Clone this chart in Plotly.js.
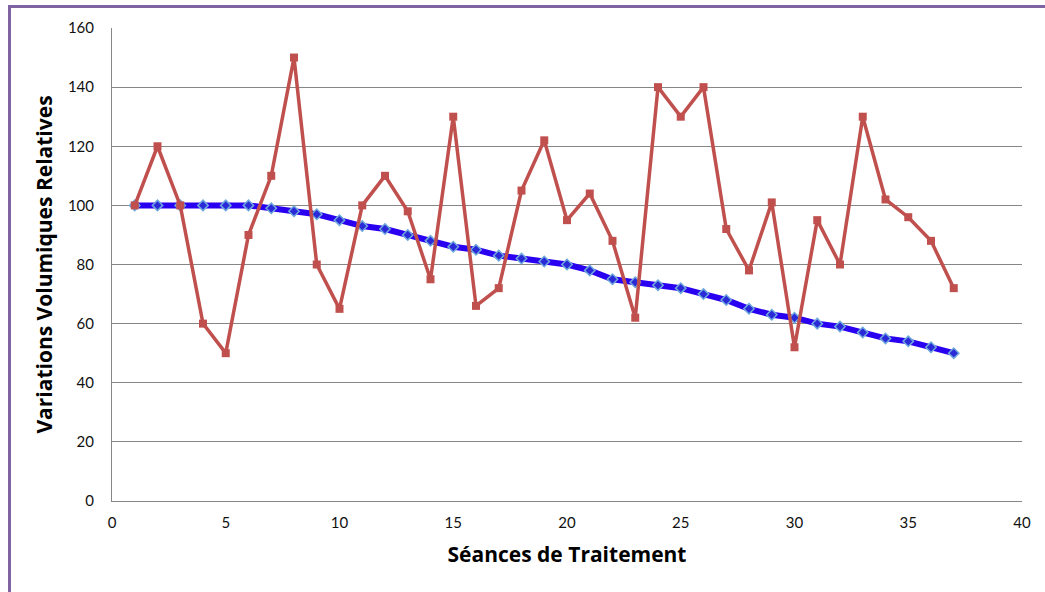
<!DOCTYPE html>
<html>
<head>
<meta charset="utf-8">
<script src="https://cdn.plot.ly/plotly-3.0.1.min.js"></script>
<style>
  html, body { margin: 0; padding: 0; background: #fff; }
  #wrap { position: relative; width: 1045px; height: 592px; overflow: hidden; }
  #frame { position: absolute; left: 8px; top: 5px; width: 1100px; height: 700px;
           border-left: 3px solid #8064A2; border-top: 3px solid #8064A2; pointer-events: none; }
  #chart { position: absolute; left: 0; top: 0; width: 1045px; height: 592px; }
</style>
</head>
<body>
<div id="wrap">
  <div id="chart"></div>
  <div id="frame"></div>
</div>
<script>
const seances = [1,2,3,4,5,6,7,8,9,10,11,12,13,14,15,16,17,18,19,20,21,22,23,24,25,26,27,28,29,30,31,32,33,34,35,36,37];
const serieBleue = [100,100,100,100,100,100,99,98,97,95,93,92,90,88,86,85,83,82,81,80,78,75,74,73,72,70,68,65,63,62,60,59,57,55,54,52,50];
const serieRouge = [100,120,100,60,50,90,110,150,80,65,100,110,98,75,130,66,72,105,122,95,104,88,62,140,130,140,92,78,101,52,95,80,130,102,96,88,72];
const xTicks = [0,5,10,15,20,25,30,35,40];
const yTicks = [0,20,40,60,80,100,120,140,160];

const traces = [
  {
    x: seances, y: serieBleue, type: 'scatter', mode: 'lines+markers',
    line: { color: '#2A00F0', width: 6 },
    marker: { symbol: 'diamond', size: 8, color: '#2A2AD8', line: { color: '#6FA8DC', width: 1.5 } },
    hoverinfo: 'skip'
  },
  {
    x: seances, y: serieRouge, type: 'scatter', mode: 'lines+markers',
    line: { color: '#C0504D', width: 3.5 },
    marker: { symbol: 'square', size: 8, color: '#C0504D' },
    hoverinfo: 'skip'
  }
];

const tickFont = { family: 'Lato, "Open Sans", sans-serif', size: 15, color: '#111' };
const titleFont = { family: '"Open Sans", Lato, sans-serif', size: 21, color: '#000', weight: 'bold' };

const layout = {
  width: 1045, height: 592,
  margin: { l: 112, r: 23, t: 28, b: 91 },
  paper_bgcolor: 'rgba(0,0,0,0)', plot_bgcolor: '#fff',
  showlegend: false,
  xaxis: {
    range: [0, 40], tickvals: xTicks, ticktext: xTicks.map(String),
    showgrid: false, zeroline: false, showline: true, linecolor: '#868686', linewidth: 1,
    ticks: '', tickfont: tickFont, ticklabelstandoff: 8,
    title: { text: 'Séances de Traitement', font: titleFont, standoff: 17 }
  },
  yaxis: {
    range: [0, 160], tickvals: yTicks, ticktext: yTicks.map(String),
    showgrid: true, gridcolor: '#868686', gridwidth: 1, zeroline: false,
    showline: true, linecolor: '#868686', linewidth: 1,
    ticks: '', tickfont: tickFont, ticklabelstandoff: 14,
    title: { text: 'Variations Volumiques Relatives', font: titleFont, standoff: 9 }
  }
};

Plotly.newPlot('chart', traces, layout, { staticPlot: true, displayModeBar: false });
</script>
</body>
</html>
